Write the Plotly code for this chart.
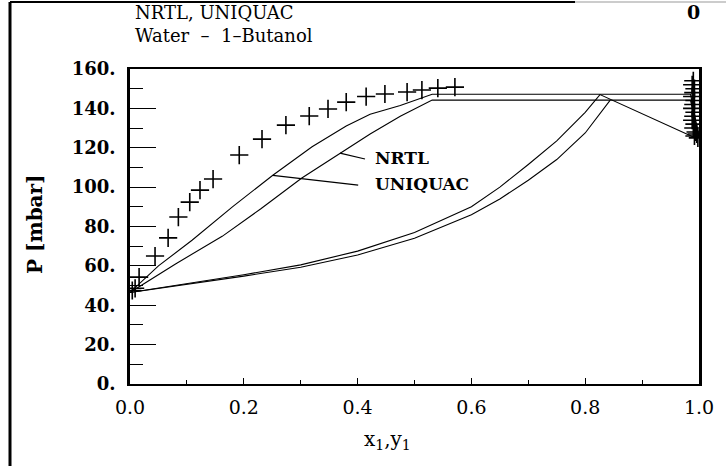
import plotly.graph_objects as go

# ---------------- data ----------------
uniquac_dew_x = [0, 0.05, 0.109, 0.18, 0.251, 0.32, 0.38, 0.422, 0.475, 0.531, 0.985, 1.0]
uniquac_dew_p = [46.5, 60, 73, 90, 106, 120.5, 131, 137, 141.5, 147.2, 147.2, 125.5]

nrtl_dew_x = [0, 0.08, 0.162, 0.23, 0.302, 0.369, 0.422, 0.475, 0.531, 0.985, 1.0]
nrtl_dew_p = [46.5, 61, 75, 89, 104.6, 117, 127, 136, 144.2, 144.2, 125.5]

uniquac_bub_x = [0, 0.1, 0.2, 0.3, 0.4, 0.5, 0.6, 0.65, 0.7, 0.75, 0.8, 0.826, 0.99]
uniquac_bub_p = [46.5, 51, 55.5, 60.5, 67.5, 77, 90, 100, 111.5, 123.5, 138, 147, 125.4]

nrtl_bub_x = [0, 0.1, 0.2, 0.3, 0.4, 0.5, 0.6, 0.65, 0.7, 0.75, 0.8, 0.844]
nrtl_bub_p = [46.5, 50.5, 54.8, 59.3, 65.5, 74, 86, 94, 103.5, 114, 127.5, 144.2]

exp_x = [0.004, 0.009, 0.016, 0.044, 0.067, 0.085, 0.105, 0.123, 0.146, 0.192,
         0.232, 0.274, 0.315, 0.348, 0.380, 0.415, 0.448, 0.487, 0.513, 0.541, 0.571,
         0.990, 0.988, 0.992, 0.990, 0.988, 0.992, 0.990, 0.988, 0.992, 0.990,
         0.988, 0.992, 0.990, 0.994, 0.996, 0.992, 0.998]
exp_p = [47.5, 48.6, 54.3, 65, 74.2, 84.8, 92.4, 98.5, 104.1, 116.3,
         124.4, 131.5, 136.1, 139.7, 143.2, 146.0, 147.3, 148.3, 149.3, 150.3, 150.8,
         154, 152, 150, 148, 146, 144, 142, 140, 138, 136,
         134, 132, 130, 128, 127, 126, 125]

x_ticks = [0, 0.2, 0.4, 0.6, 0.8, 1.0]
x_tick_labels = ["0.0", "0.2", "0.4", "0.6", "0.8", "1.0"]
y_ticks = [0, 20, 40, 60, 80, 100, 120, 140, 160]
y_tick_labels = ["0.", "20.", "40.", "60.", "80.", "100.", "120.", "140.", "160."]

# label pointers: (curve point) -> (label end)
nrtl_ptr_x = [0.369, 0.413]
nrtl_ptr_p = [117.3, 114.3]
uniquac_ptr_x = [0.251, 0.401]
uniquac_ptr_p = [106.0, 101.0]

# ---------------- figure ----------------
W, H = 726, 466
ML, MR, MT, MB = 130, 27, 69, 82
PW, PH = W - ML - MR, H - MT - MB


def px2paper_x(px):
    return (px - ML) / PW


def px2paper_y(py):
    return (H - MB - py) / PH


line_style = dict(color="black", width=1.1)

fig = go.Figure()
for xs, ps in [(uniquac_dew_x, uniquac_dew_p), (nrtl_dew_x, nrtl_dew_p),
               (uniquac_bub_x, uniquac_bub_p), (nrtl_bub_x, nrtl_bub_p)]:
    fig.add_trace(go.Scatter(x=xs, y=ps, mode="lines", line=line_style,
                             showlegend=False, hoverinfo="skip"))

for xs, ps in [(nrtl_ptr_x, nrtl_ptr_p), (uniquac_ptr_x, uniquac_ptr_p)]:
    fig.add_trace(go.Scatter(x=xs, y=ps, mode="lines", line=dict(color="black", width=1.2),
                             showlegend=False, hoverinfo="skip"))

fig.add_trace(go.Scatter(
    x=exp_x, y=exp_p, mode="markers",
    marker=dict(symbol="cross-thin", size=13, line=dict(color="black", width=1.6)),
    showlegend=False, hoverinfo="skip"))

serif = "DejaVu Serif"

fig.update_layout(
    width=W, height=H,
    margin=dict(l=ML, r=MR, t=MT, b=MB),
    paper_bgcolor="white", plot_bgcolor="white",
    showlegend=False,
    xaxis=dict(range=[0, 1], showgrid=False, zeroline=False,
               showline=True, linewidth=2.2, linecolor="black", mirror=True,
               ticks="inside", ticklen=6, tickwidth=1.2, tickcolor="black",
               tickvals=x_ticks, ticktext=x_tick_labels,
               tickfont=dict(family=serif, size=19, color="black"),
               ticklabelstandoff=5,
               minor=dict(ticks="inside", ticklen=4, dtick=0.1, tickwidth=1,
                          tickcolor="black", showgrid=False)),
    yaxis=dict(range=[0, 160], showgrid=False, zeroline=False,
               showline=True, linewidth=2.6, linecolor="black", mirror=True,
               ticks="inside", ticklen=26, tickwidth=1.2, tickcolor="black",
               tickvals=y_ticks, ticktext=y_tick_labels,
               tickfont=dict(family=serif, size=18, color="black", weight="bold"),
               ticklabelstandoff=8,
               minor=dict(ticks="inside", ticklen=13, dtick=10, tickwidth=1.2,
                          tickcolor="black", showgrid=False)),
)

annots = [
    dict(text="NRTL, UNIQUAC<br>Water  \u2013  1\u2013Butanol", x=px2paper_x(133),
         y=px2paper_y(0), xanchor="left", yanchor="top", align="left",
         font=dict(family=serif, size=18, color="black")),
    dict(text="0", x=px2paper_x(693), y=px2paper_y(12), xanchor="center",
         yanchor="middle", font=dict(family=serif, size=19, color="black", weight="bold")),
    dict(text="x<sub>1</sub>,y<sub>1</sub>", x=px2paper_x(387), y=px2paper_y(440),
         xanchor="center", yanchor="middle", font=dict(family=serif, size=20, color="black")),
    dict(text="P [mbar]", x=px2paper_x(35), y=px2paper_y(224), textangle=-90,
         xanchor="center", yanchor="middle",
         font=dict(family=serif, size=20, color="black", weight="bold")),
]
for a in annots:
    a.update(xref="paper", yref="paper", showarrow=False)
    fig.add_annotation(**a)

fig.add_annotation(text="NRTL", x=0.427, y=114.8, xref="x", yref="y", xanchor="left",
                   yanchor="middle", showarrow=False,
                   font=dict(family=serif, size=17, color="black", weight="bold"))
fig.add_annotation(text="UNIQUAC", x=0.427, y=101.5, xref="x", yref="y", xanchor="left",
                   yanchor="middle", showarrow=False,
                   font=dict(family=serif, size=17, color="black", weight="bold"))

# page frame from the scan
fig.add_shape(type="line", xref="paper", yref="paper",
              x0=px2paper_x(10), x1=px2paper_x(10), y0=px2paper_y(466), y1=px2paper_y(2),
              line=dict(color="black", width=3))
fig.add_shape(type="line", xref="paper", yref="paper",
              x0=px2paper_x(10), x1=px2paper_x(575), y0=px2paper_y(2), y1=px2paper_y(2),
              line=dict(color="black", width=2))
fig.add_shape(type="line", xref="paper", yref="paper",
              x0=px2paper_x(575), x1=px2paper_x(726), y0=px2paper_y(2), y1=px2paper_y(2),
              line=dict(color="#999999", width=1))

fig.write_html("out.html")
